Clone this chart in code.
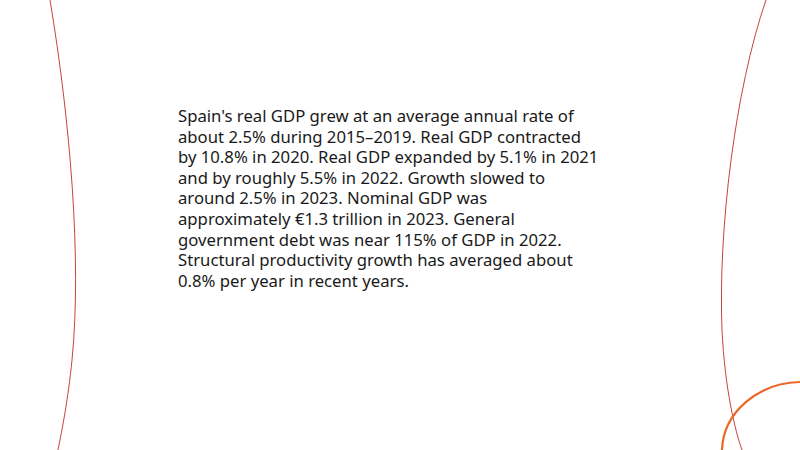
<!DOCTYPE html>
<html><head><meta charset="utf-8">
<script src="https://cdn.jsdelivr.net/npm/chart.js@4"></script>
<style>
html,body{margin:0;padding:0;width:800px;height:450px;background:#fff;overflow:hidden;font-family:"Noto Sans","Open Sans",sans-serif}
#deco{position:absolute;left:0;top:0}
#txt{position:absolute;left:178px;top:106px;font-size:16.7px;line-height:20.6px;color:#1a1a1a;white-space:nowrap}
</style></head>
<body>
<svg id="deco" width="800" height="450">
  <path d="M50,0 C70,120 82,260 72,360 C68,400 62,430 58,450" fill="none" stroke="#c8443a" stroke-width="1"/>
  <path d="M766,0 C735,90 718,230 722,330 C725,390 735,430 742,450" fill="none" stroke="#c8443a" stroke-width="1"/>
  <path d="M722,450 A80,70 0 0 1 800,382" fill="none" stroke="#e8692a" stroke-width="2.2"/>
</svg>
<div id="txt"></div>
<script>
const lines = [
  "Spain's real GDP grew at an average annual rate of",
  "about 2.5% during 2015\u20132019. Real GDP contracted",
  "by 10.8% in 2020. Real GDP expanded by 5.1% in 2021",
  "and by roughly 5.5% in 2022. Growth slowed to",
  "around 2.5% in 2023. Nominal GDP was",
  "approximately \u20ac1.3 trillion in 2023. General",
  "government debt was near 115% of GDP in 2022.",
  "Structural productivity growth has averaged about",
  "0.8% per year in recent years."
];
const box = document.getElementById('txt');
lines.forEach(l => {
  const d = document.createElement('div');
  d.textContent = l;
  box.appendChild(d);
});
</script>
</body></html>
